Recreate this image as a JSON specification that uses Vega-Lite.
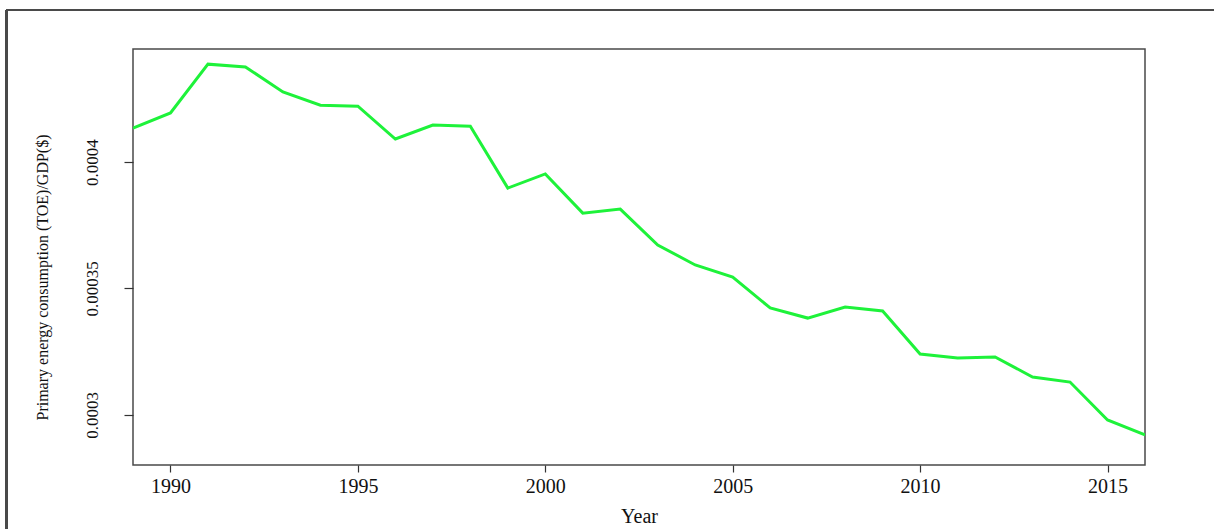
{
  "$schema": "https://vega.github.io/schema/vega-lite/v6.json",
  "width": 1012,
  "height": 416,
  "autosize": {"type": "none"},
  "padding": {"left": 133, "top": 49, "right": 69, "bottom": 64},
  "background": "white",
  "config": {
    "view": {"stroke": "#4a4a4a", "strokeWidth": 1.5},
    "font": "Liberation Serif"
  },
  "data": {
    "values": [
      {"year": 1989, "value": 0.0004134},
      {"year": 1990, "value": 0.0004194},
      {"year": 1991, "value": 0.0004387},
      {"year": 1992, "value": 0.0004376},
      {"year": 1993, "value": 0.0004277},
      {"year": 1994, "value": 0.0004225},
      {"year": 1995, "value": 0.0004221},
      {"year": 1996, "value": 0.0004091},
      {"year": 1997, "value": 0.0004146},
      {"year": 1998, "value": 0.0004142},
      {"year": 1999, "value": 0.0003897},
      {"year": 2000, "value": 0.0003953},
      {"year": 2001, "value": 0.0003798},
      {"year": 2002, "value": 0.0003814},
      {"year": 2003, "value": 0.0003672},
      {"year": 2004, "value": 0.0003593},
      {"year": 2005, "value": 0.0003545},
      {"year": 2006, "value": 0.0003423},
      {"year": 2007, "value": 0.0003383},
      {"year": 2008, "value": 0.0003427},
      {"year": 2009, "value": 0.0003411},
      {"year": 2010, "value": 0.0003241},
      {"year": 2011, "value": 0.0003225},
      {"year": 2012, "value": 0.0003229},
      {"year": 2013, "value": 0.000315},
      {"year": 2014, "value": 0.000313},
      {"year": 2015, "value": 0.000298},
      {"year": 2016, "value": 0.0002921}
    ]
  },
  "layer": [
    {
      "mark": {"type": "line", "color": "#1ef23a", "strokeWidth": 3, "clip": true},
      "encoding": {
        "x": {
          "field": "year",
          "type": "quantitative",
          "scale": {"domain": [1989, 2016], "nice": false, "zero": false},
          "axis": {
            "title": "Year",
            "values": [1990, 1995, 2000, 2005, 2010, 2015],
            "format": "d",
            "grid": false,
            "domain": false,
            "tickSize": 7,
            "tickColor": "#333",
            "tickWidth": 1.2,
            "labelFont": "Liberation Serif",
            "labelFontSize": 20,
            "labelColor": "#111",
            "labelBaseline": "alphabetic",
            "labelPadding": 20,
            "labelFlush": false,
            "titleFont": "Liberation Serif",
            "titleFontSize": 20,
            "titleFontWeight": "normal",
            "titleColor": "#111",
            "titleBaseline": "alphabetic",
            "titleX": 506,
            "titleY": 57
          }
        },
        "y": {
          "field": "value",
          "type": "quantitative",
          "scale": {"domain": [0.0002802, 0.0004447], "nice": false, "zero": false},
          "axis": {
            "title": "Primary energy consumption (TOE)/GDP($)",
            "values": [0.0003, 0.00035, 0.0004],
            "format": "~g",
            "grid": false,
            "domain": false,
            "tickSize": 9,
            "tickColor": "#333",
            "tickWidth": 1.2,
            "labelFont": "Liberation Serif",
            "labelFontSize": 17,
            "labelColor": "#111",
            "labelAngle": 270,
            "labelAlign": "center",
            "labelBaseline": "alphabetic",
            "labelPadding": 27,
            "labelFlush": false,
            "titleFont": "Liberation Serif",
            "titleFontSize": 16,
            "titleFontWeight": "normal",
            "titleColor": "#111",
            "titleAngle": 270,
            "titleAlign": "center",
            "titleBaseline": "alphabetic",
            "titleX": -86,
            "titleY": 228
          }
        }
      }
    },
    {
      "mark": {"type": "rule", "color": "#4a4a4a", "strokeWidth": 2},
      "encoding": {
        "x": {"datum": 1985.62, "type": "quantitative"},
        "y": {"datum": 0.00025, "type": "quantitative"},
        "y2": {"datum": 0.00046008}
      }
    },
    {
      "mark": {"type": "rule", "color": "#4a4a4a", "strokeWidth": 2},
      "encoding": {
        "x": {"datum": 1985.62, "type": "quantitative"},
        "x2": {"datum": 2018.5},
        "y": {"datum": 0.00046008, "type": "quantitative"}
      }
    }
  ]
}
